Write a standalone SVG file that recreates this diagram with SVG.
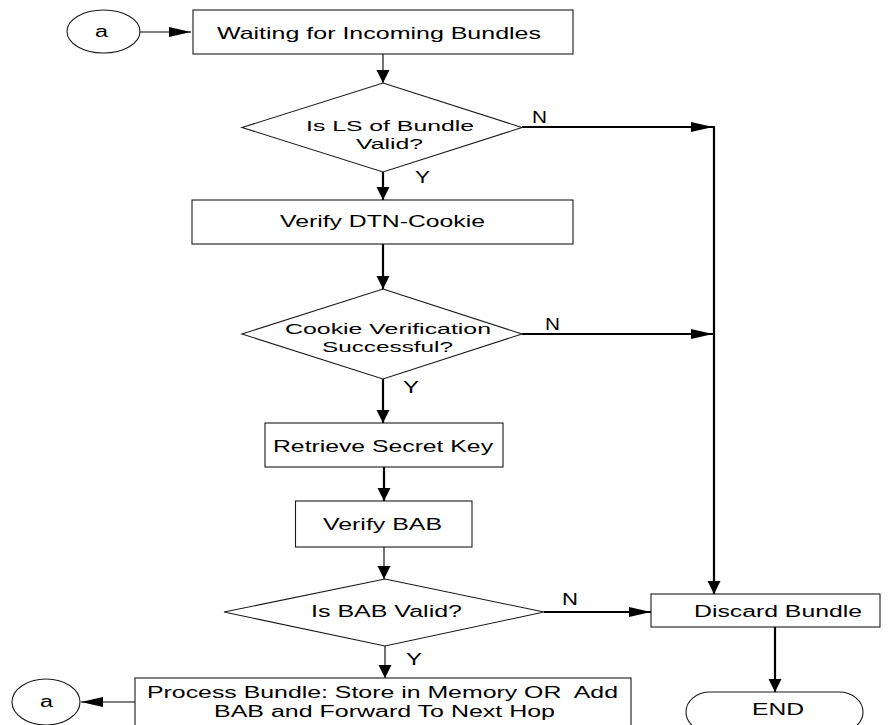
<svg xmlns="http://www.w3.org/2000/svg" width="890" height="725" viewBox="0 0 890 725">
<style>
.shape{fill:#fff;stroke:#1a1a1a;stroke-width:1.1}
.t{font-family:"Liberation Sans",Arial,sans-serif;font-size:16px;fill:#000;white-space:pre}
.s{font-size:15.5px}
.c{stroke:#000;fill:none}
.thin{stroke-width:1.1}
.thick{stroke-width:2.2}
</style>
<defs>
<marker id="av" markerUnits="userSpaceOnUse" markerWidth="14" markerHeight="14" refX="13" refY="6.5" orient="auto" viewBox="0 0 14 14"><path d="M0,0 L13,6.5 L0,13 z" fill="#000"/></marker>
<marker id="ah" markerUnits="userSpaceOnUse" markerWidth="22" markerHeight="10" refX="22" refY="5" orient="auto" viewBox="0 0 22 10"><path d="M0,0 L22,5 L0,10 z" fill="#000"/></marker>
</defs>
<rect width="890" height="725" fill="#fff"/>
<g id="connectors">
<line class="c thin" x1="140" y1="32" x2="191" y2="32" marker-end="url(#ah)"/>
<line class="c thin" x1="383" y1="54" x2="383" y2="83" marker-end="url(#av)"/>
<line class="c thick" x1="383" y1="172" x2="383" y2="200" marker-end="url(#av)"/>
<line class="c thick" x1="383" y1="244" x2="383" y2="289" marker-end="url(#av)"/>
<line class="c thick" x1="383" y1="379" x2="383" y2="423" marker-end="url(#av)"/>
<line class="c thick" x1="384" y1="467" x2="384" y2="501" marker-end="url(#av)"/>
<line class="c thin" x1="384" y1="547" x2="384" y2="579" marker-end="url(#av)"/>
<line class="c thin" x1="385" y1="646" x2="385" y2="678" marker-end="url(#av)"/>
<line class="c thick" x1="522" y1="127" x2="713" y2="127" marker-end="url(#ah)"/>
<line class="c thick" x1="522" y1="334" x2="713" y2="334" marker-end="url(#ah)"/>
<line class="c thick" x1="714" y1="126" x2="714" y2="594" marker-end="url(#av)"/>
<line class="c thick" x1="544" y1="612" x2="651" y2="612" marker-end="url(#ah)"/>
<line class="c thick" x1="775" y1="627" x2="775" y2="692" marker-end="url(#av)"/>
<line class="c thin" x1="135" y1="702" x2="81" y2="702" marker-end="url(#ah)"/>
<text class="t" x="532" y="123" textLength="15" lengthAdjust="spacingAndGlyphs">N</text>
<text class="t" x="545" y="330" textLength="15" lengthAdjust="spacingAndGlyphs">N</text>
<text class="t" x="562" y="605" textLength="16" lengthAdjust="spacingAndGlyphs">N</text>
<text class="t" x="415" y="183" textLength="15" lengthAdjust="spacingAndGlyphs">Y</text>
<text class="t" x="403" y="393" textLength="16" lengthAdjust="spacingAndGlyphs">Y</text>
<text class="t" x="406" y="665" textLength="16" lengthAdjust="spacingAndGlyphs">Y</text>
</g>
<g id="start-a">
<ellipse class="shape" cx="103.5" cy="31.5" rx="36.5" ry="21.5"/>
<text class="t" x="95" y="37" textLength="13" lengthAdjust="spacingAndGlyphs">a</text>
</g>
<g id="waiting">
<rect class="shape" x="193" y="10" width="380" height="44"/>
<text class="t" x="217" y="39" style="font-size:17px" textLength="324" lengthAdjust="spacingAndGlyphs">Waiting for Incoming Bundles</text>
</g>
<g id="ls-valid">
<polygon class="shape" points="383,83 522,127.5 383,172 242,127.5"/>
<text class="t s" x="306" y="131" textLength="168" lengthAdjust="spacingAndGlyphs">Is LS of Bundle</text>
<text class="t s" x="356" y="148.5" textLength="67" lengthAdjust="spacingAndGlyphs">Valid?</text>
</g>
<g id="verify-cookie">
<rect class="shape" x="192" y="200" width="381" height="44"/>
<text class="t" x="280" y="227" textLength="205" lengthAdjust="spacingAndGlyphs">Verify DTN-Cookie</text>
</g>
<g id="cookie-ok">
<polygon class="shape" points="383,289 522,334 383,379 242,334"/>
<text class="t s" x="285" y="333.5" textLength="206" lengthAdjust="spacingAndGlyphs">Cookie Verification</text>
<text class="t s" x="322" y="352" textLength="131" lengthAdjust="spacingAndGlyphs">Successful?</text>
</g>
<g id="retrieve-key">
<rect class="shape" x="265" y="423" width="238" height="44"/>
<text class="t" x="273" y="452" textLength="220" lengthAdjust="spacingAndGlyphs">Retrieve Secret Key</text>
</g>
<g id="verify-bab">
<rect class="shape" x="295.5" y="501" width="176.5" height="46"/>
<text class="t" x="323" y="530" textLength="119" lengthAdjust="spacingAndGlyphs">Verify BAB</text>
</g>
<g id="bab-valid">
<polygon class="shape" points="385,579 544,612 385,646 224,612"/>
<text class="t" x="311" y="617" textLength="151" lengthAdjust="spacingAndGlyphs">Is BAB Valid?</text>
</g>
<g id="discard">
<rect class="shape" x="651" y="594" width="229" height="33"/>
<text class="t" x="694" y="617" textLength="168" lengthAdjust="spacingAndGlyphs">Discard Bundle</text>
</g>
<g id="end">
<rect class="shape" x="686" y="692" width="177" height="40" rx="24" ry="20"/>
<text class="t" x="752" y="715" textLength="52" lengthAdjust="spacingAndGlyphs">END</text>
</g>
<g id="process">
<rect class="shape" x="135" y="678" width="496" height="52"/>
<text class="t" x="147" y="698" textLength="471" lengthAdjust="spacingAndGlyphs">Process Bundle: Store in Memory OR  Add</text>
<text class="t" x="214" y="717" textLength="341" lengthAdjust="spacingAndGlyphs">BAB and Forward To Next Hop</text>
</g>
<g id="end-a">
<ellipse class="shape" cx="46" cy="702" rx="34" ry="23"/>
<text class="t" x="40" y="707" textLength="13" lengthAdjust="spacingAndGlyphs">a</text>
</g>
</svg>
